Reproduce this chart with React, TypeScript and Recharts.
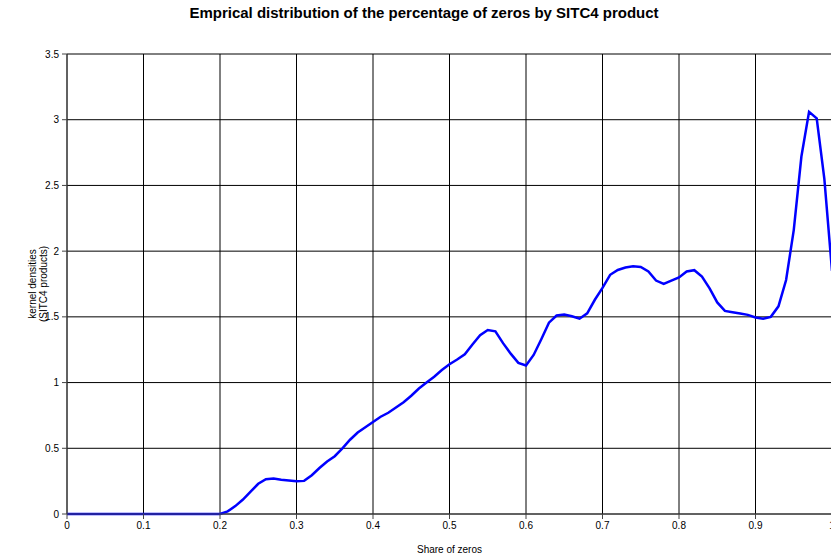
import React from 'react';
import { LineChart, Line, XAxis, YAxis, CartesianGrid } from 'recharts';

const shareOfZeros: number[] = [
  0, 0.01, 0.02, 0.03, 0.04, 0.05, 0.06, 0.07, 0.08, 0.09,
  0.1, 0.11, 0.12, 0.13, 0.14, 0.15, 0.16, 0.17, 0.18, 0.19,
  0.2, 0.21, 0.22, 0.23, 0.24, 0.25, 0.26, 0.27, 0.28, 0.29,
  0.3, 0.31, 0.32, 0.33, 0.34, 0.35, 0.36, 0.37, 0.38, 0.39,
  0.4, 0.41, 0.42, 0.43, 0.44, 0.45, 0.46, 0.47, 0.48, 0.49,
  0.5, 0.51, 0.52, 0.53, 0.54, 0.55, 0.56, 0.57, 0.58, 0.59,
  0.6, 0.61, 0.62, 0.63, 0.64, 0.65, 0.66, 0.67, 0.68, 0.69,
  0.7, 0.71, 0.72, 0.73, 0.74, 0.75, 0.76, 0.77, 0.78, 0.79,
  0.8, 0.81, 0.82, 0.83, 0.84, 0.85, 0.86, 0.87, 0.88, 0.89,
  0.9, 0.91, 0.92, 0.93, 0.94, 0.95, 0.96, 0.97, 0.98, 0.99,
  1.0,
];

const kernelDensity: number[] = [
  0, 0, 0, 0, 0, 0, 0, 0, 0, 0,
  0, 0, 0, 0, 0, 0, 0, 0, 0, 0,
  0, 0.02, 0.06, 0.11, 0.17, 0.23, 0.265, 0.27, 0.26, 0.255,
  0.25, 0.252, 0.295, 0.35, 0.4, 0.44, 0.5, 0.565, 0.62, 0.66,
  0.7, 0.74, 0.77, 0.81, 0.85, 0.9, 0.955, 1.0, 1.045, 1.095,
  1.14, 1.175, 1.215, 1.29, 1.36, 1.4, 1.39, 1.3, 1.22, 1.15,
  1.13, 1.21, 1.33, 1.456, 1.51, 1.517, 1.505, 1.486, 1.527, 1.63,
  1.72, 1.82, 1.857, 1.875, 1.885, 1.88, 1.845, 1.776, 1.75, 1.775,
  1.8, 1.845, 1.855, 1.806, 1.717, 1.61, 1.545, 1.535, 1.525, 1.515,
  1.495, 1.485, 1.5, 1.58, 1.78, 2.16, 2.72, 3.06, 3.01, 2.55,
  1.85,
];

const xTicks: number[] = [0, 0.1, 0.2, 0.3, 0.4, 0.5, 0.6, 0.7, 0.8, 0.9, 1];
const yTicks: number[] = [0, 0.5, 1, 1.5, 2, 2.5, 3, 3.5];

const data = shareOfZeros.map((x, i) => ({ x, y: kernelDensity[i] }));

const FONT = 'Liberation Sans, Arial, sans-serif';

const YLabel = (props: any) => {
  const vb = props.viewBox || {};
  const cy = (vb.y ?? 54) + (vb.height ?? 460) / 2;
  return (
    <g>
      <text x={36} y={cy} transform={`rotate(-90, 36, ${cy})`} textAnchor="middle" fontSize={10} fontFamily={FONT} fill="#000">
        kernel densities
      </text>
      <text x={47} y={cy} transform={`rotate(-90, 47, ${cy})`} textAnchor="middle" fontSize={10} fontFamily={FONT} fill="#000">
        (SITC4 products)
      </text>
    </g>
  );
};

export default function App() {
  return (
    <div style={{ position: 'fixed', left: 0, top: 0, width: 831, height: 559, overflow: 'hidden', background: '#fff' }}>
      <div
        style={{
          position: 'absolute',
          left: 0,
          top: 4,
          width: 848,
          textAlign: 'center',
          fontFamily: FONT,
          fontWeight: 'bold',
          fontSize: 15,
          color: '#000',
        }}
      >
        Emprical distribution of the percentage of zeros by SITC4 product
      </div>
      <LineChart width={850} height={559} data={data} margin={{ top: 54, right: 18, bottom: 0, left: 0 }}>
        <CartesianGrid stroke="#000" strokeWidth={1} />
        <XAxis
          dataKey="x"
          type="number"
          domain={[0, 1]}
          ticks={xTicks}
          interval={0}
          height={45}
          stroke="#444"
          tick={{ fill: '#000', fontSize: 10, fontFamily: FONT }}
          tickSize={5}
          tickMargin={3}
          label={{ value: 'Share of zeros', position: 'insideBottom', offset: 6, fill: '#000', fontSize: 10, fontFamily: FONT }}
        />
        <YAxis
          type="number"
          domain={[0, 3.5]}
          ticks={yTicks}
          interval={0}
          width={67}
          stroke="#444"
          tick={{ fill: '#000', fontSize: 10, fontFamily: FONT }}
          tickSize={5}
          tickMargin={3}
          label={<YLabel />}
        />
        <Line
          type="linear"
          dataKey="y"
          stroke="#0000FF"
          strokeWidth={2.5}
          dot={false}
          isAnimationActive={false}
        />
      </LineChart>
    </div>
  );
}
